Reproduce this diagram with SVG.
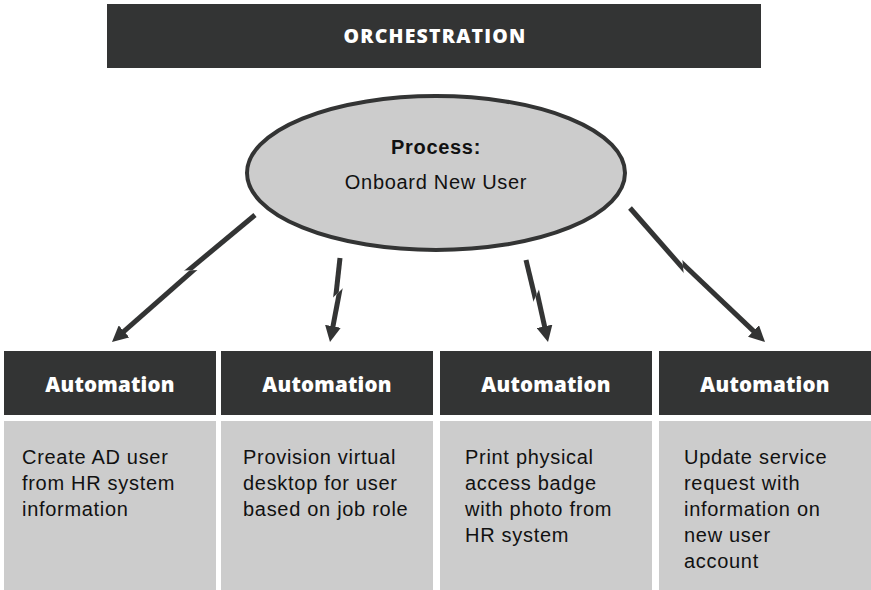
<svg xmlns="http://www.w3.org/2000/svg" width="871" height="590" viewBox="0 0 871 590">
  <style>
    .dark { fill: #333434; }
    .light { fill: #cccccc; }
    .hdr { font-family: "Open Sans", "Liberation Sans", sans-serif; font-weight: 800; fill: #ffffff; text-anchor: middle; }
    .body { font-family: "Liberation Sans", Arial, sans-serif; font-size: 20px; letter-spacing: 0.7px; fill: #111111; }
    .shaft { stroke: #333434; stroke-width: 5; fill: none; stroke-linecap: butt; }
  </style>
  <defs>
    <marker id="ah" viewBox="0 0 16 16" refX="2" refY="8" markerWidth="16" markerHeight="16" markerUnits="userSpaceOnUse" orient="auto">
      <path d="M0,0 L16,8 L0,16 z" fill="#333434"/>
    </marker>
    <clipPath id="u1"><rect x="-400" y="0" width="800" height="400" transform="translate(188.5,270.3) rotate(178.4)"/></clipPath>
    <clipPath id="l1"><rect x="-400" y="-400" width="800" height="400" transform="translate(188.5,270.3) rotate(178.4)"/></clipPath>
    <clipPath id="u2"><rect x="-400" y="0" width="800" height="400" transform="translate(336,294.7) rotate(136.8)"/></clipPath>
    <clipPath id="l2"><rect x="-400" y="-400" width="800" height="400" transform="translate(336,294.7) rotate(136.8)"/></clipPath>
    <clipPath id="u3"><rect x="-400" y="0" width="800" height="400" transform="translate(535.1,297.8) rotate(115)"/></clipPath>
    <clipPath id="l3"><rect x="-400" y="-400" width="800" height="400" transform="translate(535.1,297.8) rotate(115)"/></clipPath>
    <clipPath id="u4"><rect x="-400" y="0" width="800" height="400" transform="translate(683.2,268.7) rotate(84.8)"/></clipPath>
    <clipPath id="l4"><rect x="-400" y="-400" width="800" height="400" transform="translate(683.2,268.7) rotate(84.8)"/></clipPath>
  </defs>

  <rect width="871" height="590" fill="#ffffff"/>

  <g id="orchestration">
    <rect class="dark" x="107" y="4" width="654" height="64"/>
    <text class="hdr" x="435" y="43" font-size="19.5" letter-spacing="1.2">ORCHESTRATION</text>
  </g>

  <g id="process">
    <ellipse cx="436" cy="173" rx="189" ry="77" fill="#cccccc" stroke="#333434" stroke-width="4"/>
    <text x="436" y="154" text-anchor="middle" font-family="Liberation Sans, Arial, sans-serif" font-weight="700" font-size="20" letter-spacing="0.7" fill="#111111">Process:</text>
    <text x="436" y="189" text-anchor="middle" class="body">Onboard New User</text>
  </g>

  <g id="connectors">
    <line class="shaft" x1="255" y1="215" x2="182.3" y2="275.4" clip-path="url(#u1)"/>
    <line class="shaft" x1="199.5" y1="264.9" x2="122.5" y2="332.7" clip-path="url(#l1)" marker-end="url(#ah)"/>
    <line class="shaft" x1="340" y1="258" x2="335.1" y2="302.6" clip-path="url(#u2)"/>
    <line class="shaft" x1="341.1" y1="283.4" x2="332.6" y2="328.3" clip-path="url(#l2)" marker-end="url(#ah)"/>
    <line class="shaft" x1="526" y1="260" x2="537" y2="305.6" clip-path="url(#u3)"/>
    <line class="shaft" x1="535.5" y1="285.5" x2="545" y2="328.3" clip-path="url(#l3)" marker-end="url(#ah)"/>
    <line class="shaft" x1="630" y1="208" x2="688.5" y2="274.7" clip-path="url(#u4)"/>
    <line class="shaft" x1="676.9" y1="258.2" x2="754.9" y2="332.4" clip-path="url(#l4)" marker-end="url(#ah)"/>
  </g>

  <g id="automation-1">
    <rect class="dark" x="4" y="351" width="212" height="64"/>
    <text class="hdr" x="110" y="392" font-size="20.5" letter-spacing="0.2">Automation</text>
    <rect class="light" x="4" y="421" width="212" height="169"/>
    <text class="body"><tspan x="22" y="464">Create AD user</tspan><tspan x="22" y="490">from HR system</tspan><tspan x="22" y="516">information</tspan></text>
  </g>

  <g id="automation-2">
    <rect class="dark" x="221" y="351" width="212" height="64"/>
    <text class="hdr" x="327" y="392" font-size="20.5" letter-spacing="0.2">Automation</text>
    <rect class="light" x="221" y="421" width="212" height="169"/>
    <text class="body"><tspan x="243" y="464">Provision virtual</tspan><tspan x="243" y="490">desktop for user</tspan><tspan x="243" y="516">based on job role</tspan></text>
  </g>

  <g id="automation-3">
    <rect class="dark" x="440" y="351" width="212" height="64"/>
    <text class="hdr" x="546" y="392" font-size="20.5" letter-spacing="0.2">Automation</text>
    <rect class="light" x="440" y="421" width="212" height="169"/>
    <text class="body"><tspan x="465" y="464">Print physical</tspan><tspan x="465" y="490">access badge</tspan><tspan x="465" y="516">with photo from</tspan><tspan x="465" y="542">HR system</tspan></text>
  </g>

  <g id="automation-4">
    <rect class="dark" x="659" y="351" width="212" height="64"/>
    <text class="hdr" x="765" y="392" font-size="20.5" letter-spacing="0.2">Automation</text>
    <rect class="light" x="659" y="421" width="212" height="169"/>
    <text class="body"><tspan x="684" y="464">Update service</tspan><tspan x="684" y="490">request with</tspan><tspan x="684" y="516">information on</tspan><tspan x="684" y="542">new user</tspan><tspan x="684" y="568">account</tspan></text>
  </g>
</svg>
